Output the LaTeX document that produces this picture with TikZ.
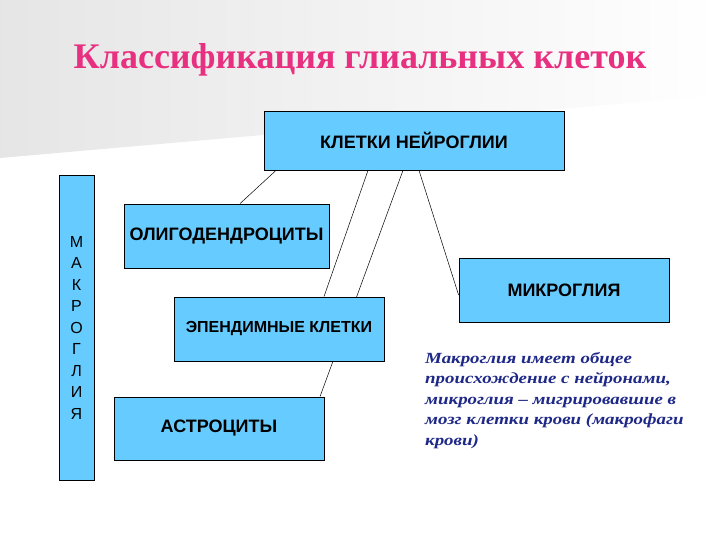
\documentclass[tikz,border=0pt]{standalone}
\usepackage{fontspec}
\setmainfont{Liberation Serif}
\setsansfont{Liberation Sans}
\newfontfamily\notefont{Liberation Serif}[FakeStretch=1.22]
\usetikzlibrary{backgrounds}
\definecolor{boxblue}{RGB}{102,204,255}
\definecolor{titlepink}{RGB}{232,48,128}
\definecolor{notenavy}{RGB}{30,40,135}
\begin{document}
\begin{tikzpicture}[x=1pt, y=-1pt,
  cellbox/.style={draw=black, line width=0.8pt, fill=boxblue, inner sep=0pt,
    font=\sffamily\bfseries\fontsize{18}{20}\selectfont},
  link/.style={draw=black, line width=0.5pt}]
  \useasboundingbox (0,0) rectangle (720,540);
  % title
  \node[anchor=base, text=titlepink, font=\bfseries\fontsize{36}{40}\selectfont] (title) at (360,69) {Классификация глиальных клеток};
  % boxes
  \node[cellbox, minimum width=300pt, minimum height=59pt] (glia) at (414,140.5) {КЛЕТКИ НЕЙРОГЛИИ};
  \node[cellbox, minimum width=35pt, minimum height=305pt, align=center,
    font=\sffamily\fontsize{16}{21.5}\selectfont] (macro) at (76.5,327.5) {М\\А\\К\\Р\\О\\Г\\Л\\И\\Я};
  \node[cellbox, minimum width=205pt, minimum height=64pt] (oligo) at (226.5,236) {ОЛИГОДЕНДРОЦИТЫ};
  \node[cellbox, minimum width=210pt, minimum height=64pt,
    font=\sffamily\bfseries\fontsize{16}{18}\selectfont] (epend) at (279,329) {ЭПЕНДИМНЫЕ КЛЕТКИ};
  \node[cellbox, minimum width=210pt, minimum height=63pt] (astro) at (219,428.5) {АСТРОЦИТЫ};
  \node[cellbox, minimum width=210pt, minimum height=64pt] (micro) at (564,290) {МИКРОГЛИЯ};
  % note
  \node[anchor=north west, align=left, inner sep=0pt, text=notenavy,
    font=\notefont\bfseries\itshape\fontsize{15.5}{20.5}\selectfont] (note) at (425,352)
    {Макроглия имеет общее\\происхождение с нейронами,\\микроглия – мигрировавшие в\\мозг клетки крови (макрофаги\\крови)};
  % background and connectors
  \begin{scope}[on background layer]
    \fill[white] (0,0) rectangle (720,540);
    \shade[left color=gray!20, right color=white] (0,0) -- (720,0) -- (720,95) -- (0,158) -- cycle;
    \draw[link] ([xshift=-138pt]glia.south) -- ([xshift=13.5pt]oligo.north);
    \draw[link] ([xshift=-46pt]glia.south) -- ([xshift=45pt]epend.north);
    \draw[link] ([xshift=-11pt]glia.south) -- ([xshift=101pt]astro.north);
    \draw[link] ([xshift=5pt]glia.south) -- ([yshift=-5pt]micro.west);
  \end{scope}
\end{tikzpicture}
\end{document}
